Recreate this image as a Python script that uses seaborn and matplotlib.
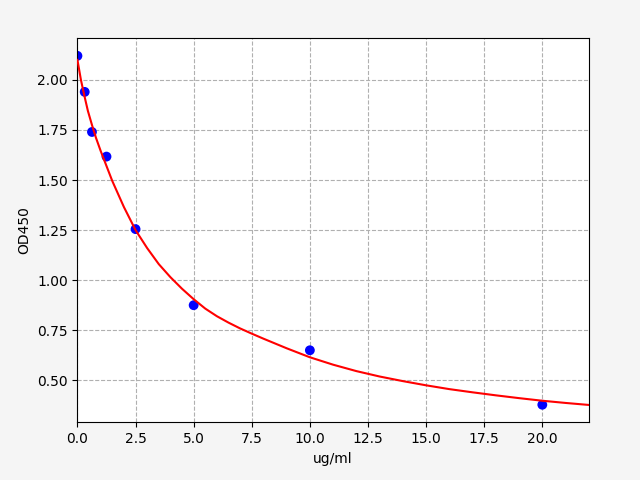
import matplotlib
matplotlib.use("Agg")
import matplotlib.pyplot as plt
import seaborn as sns

# standard points (concentration, OD)
conc = [0, 0.3125, 0.625, 1.25, 2.5, 5, 10, 20]
od = [2.12, 1.94, 1.74, 1.617, 1.255, 0.875, 0.65, 0.378]

# fitted curve
curve_x = [0, 0.15, 0.3, 0.45, 0.625, 0.8, 1.0, 1.25, 1.5, 1.75, 2.0, 2.5,
           3.0, 3.5, 4.0, 4.5, 5.0, 5.5, 6.0, 6.5, 7.0, 7.5, 8.0, 9.0, 10.0,
           11.0, 12.0, 13.0, 14.0, 15.0, 16.0, 17.0, 18.0, 19.0, 20.0, 21.0,
           22.0]
curve_y = [2.10, 2.00, 1.92, 1.845, 1.775, 1.71, 1.645, 1.57, 1.495, 1.43,
           1.365, 1.25, 1.16, 1.08, 1.015, 0.957, 0.905, 0.858, 0.82, 0.788,
           0.759, 0.733, 0.708, 0.66, 0.615, 0.578, 0.546, 0.519, 0.496,
           0.475, 0.456, 0.44, 0.425, 0.411, 0.398, 0.387, 0.377]

fig, ax = plt.subplots(figsize=(6.4, 4.8), dpi=100)
fig.patch.set_facecolor("#f5f5f5")
fig.subplots_adjust(left=0.121, right=0.92, top=0.92, bottom=0.12)

sns.scatterplot(x=conc, y=od, color="blue", s=50, edgecolor="none", ax=ax, zorder=2)
sns.lineplot(x=curve_x, y=curve_y, color="red", linewidth=1.5, ax=ax, zorder=3)

ax.set_xlim(0, 22)
ax.set_xlabel("ug/ml")
ax.set_ylabel("OD450")
ax.grid(True, linestyle="--", color="#b0b0b0")
ax.set_axisbelow(True)

fig.savefig("out.png", dpi=100, facecolor=fig.get_facecolor())
